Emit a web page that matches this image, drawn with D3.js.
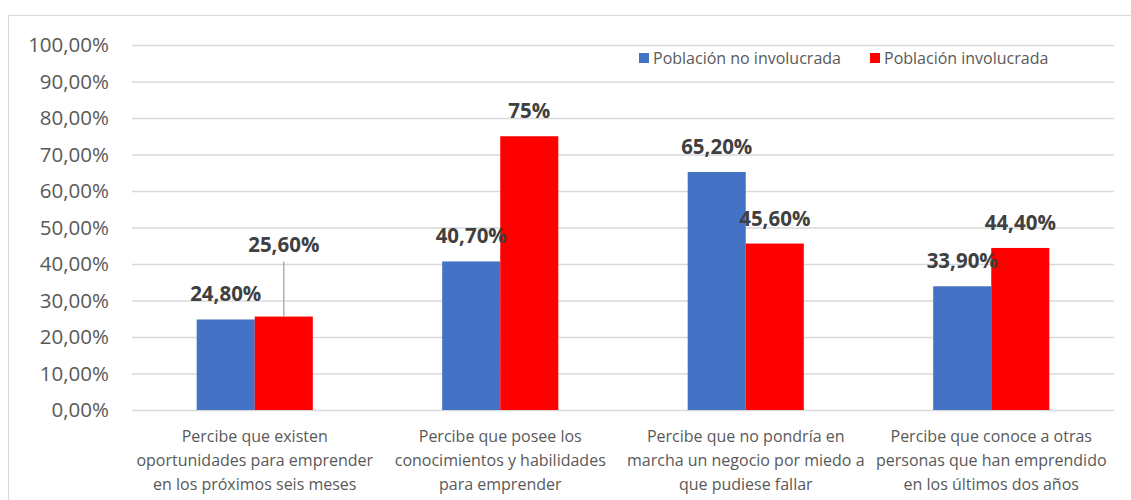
<!DOCTYPE html>
<html>
<head>
<meta charset="utf-8">
<script src="https://cdn.jsdelivr.net/npm/d3@7"></script>
<style>
  body { margin: 0; background: #fff; }
  text { font-family: "Open Sans", "Noto Sans", sans-serif; }
</style>
</head>
<body>
<script>
const categorias = [
  ['Percibe que existen', 'oportunidades para emprender', 'en los próximos seis meses'],
  ['Percibe que posee los', 'conocimientos y habilidades', 'para emprender'],
  ['Percibe que no pondría en', 'marcha un negocio por miedo a', 'que pudiese fallar'],
  ['Percibe que conoce a otras', 'personas que han emprendido', 'en los últimos dos años']
]
const series = ['Población no involucrada', 'Población involucrada']
const noInvolucrada = [24.8, 40.7, 65.2, 33.9]
const involucrada = [25.6, 75, 45.6, 44.4]
const etiquetasNo = ['24,80%', '40,70%', '65,20%', '33,90%']
const etiquetasSi = ['25,60%', '75%', '45,60%', '44,40%']
const ticks = [0, 10, 20, 30, 40, 50, 60, 70, 80, 90, 100]
const colores = ['#4472C4', '#FF0000']

const largura = 1131
const altura = 500
const area = {esquerda: 132, direita: 1114, topo: 45, base: 410}

var svg = d3.select('body').append('svg').attr('width', largura).attr('height', altura)

// borde del gráfico
svg.append('rect')
  .attr('x', 8.5).attr('y', 15.5)
  .attr('width', 1125).attr('height', 500)
  .attr('fill', 'none').attr('stroke', '#d9d9d9')

var y = d3.scaleLinear().domain([0, 100]).range([area.base, area.topo])
var x0 = d3.scaleBand().domain(d3.range(categorias.length))
  .range([area.esquerda, area.direita]).paddingInner(0.527).paddingOuter(0.2635)
var x1 = d3.scaleBand().domain(d3.range(series.length)).range([0, x0.bandwidth()])

var eixoY = d3.axisLeft(y).tickValues(ticks)
  .tickSize(-(area.direita - area.esquerda))
  .tickPadding(23)
  .tickFormat(d => d3.format('.2f')(d).replace('.', ',') + '%')

var grupoY = svg.append('g').attr('transform', 'translate(' + area.esquerda + ',0)').call(eixoY)
grupoY.select('.domain').remove()
grupoY.selectAll('line').attr('stroke', '#d9d9d9').attr('stroke-width', 1.3)
grupoY.selectAll('text').attr('fill', '#595959').style('font-size', '20.5px')

var dados = categorias.map((c, i) => ({i: i, valores: [noInvolucrada[i], involucrada[i]], etiquetas: [etiquetasNo[i], etiquetasSi[i]]}))

var grupos = svg.selectAll('.categoria').data(dados).enter().append('g')
  .attr('class', 'categoria')
  .attr('transform', d => 'translate(' + x0(d.i) + ',0)')

grupos.selectAll('rect').data(d => d.valores.map((v, s) => ({v: v, s: s}))).enter().append('rect')
  .attr('x', d => x1(d.s))
  .attr('y', d => y(d.v))
  .attr('width', x1.bandwidth())
  .attr('height', d => y(0) - y(d.v))
  .attr('fill', d => colores[d.s])

// etiquetas de datos (la de 25,60% está desplazada con línea guía)
grupos.each(function (d) {
  var g = d3.select(this)
  d.valores.forEach(function (v, s) {
    var cx = x1(s) + x1.bandwidth() / 2
    var base = y(v) - 18
    if (d.i === 0 && s === 1) {
      base = y(v) - 65
      g.append('line')
        .attr('x1', cx).attr('x2', cx)
        .attr('y1', base + 10).attr('y2', y(v))
        .attr('stroke', '#a6a6a6').attr('stroke-width', 1.3)
    }
    g.append('text')
      .attr('x', cx).attr('y', base)
      .attr('text-anchor', 'middle')
      .attr('fill', '#404040')
      .style('font-size', '20.5px').style('font-weight', 'bold')
      .text(d.etiquetas[s])
  })
})

// eje de categorías
var eixoX = svg.append('g')
eixoX.selectAll('text').data(categorias).enter().append('text')
  .attr('text-anchor', 'middle')
  .attr('fill', '#595959')
  .style('font-size', '16px')
  .each(function (linhas, i) {
    var t = d3.select(this)
    linhas.forEach(function (l, k) {
      t.append('tspan').attr('x', x0(i) + x0.bandwidth() / 2).attr('y', 442 + k * 24).text(l)
    })
  })

// leyenda
var legenda = svg.append('g')
var posLeg = [639, 870]
series.forEach(function (s, i) {
  legenda.append('rect').attr('x', posLeg[i]).attr('y', 53).attr('width', 10).attr('height', 10).attr('fill', colores[i])
  legenda.append('text').attr('x', posLeg[i] + 14).attr('y', 64)
    .attr('fill', '#595959').style('font-size', '16px').text(s)
})
</script>
</body>
</html>
